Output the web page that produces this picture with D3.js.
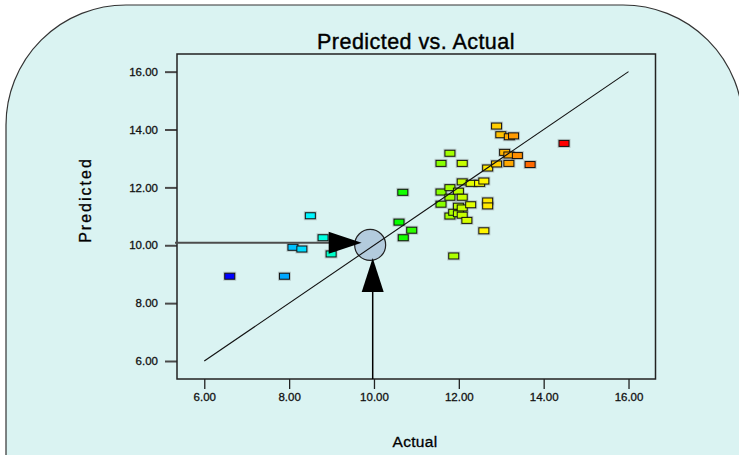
<!DOCTYPE html>
<html><head><meta charset="utf-8">
<script src="https://cdn.jsdelivr.net/npm/d3@7/dist/d3.min.js"></script>
<style>html,body{margin:0;padding:0;background:#fff;}svg{display:block;}</style>
</head><body>
<svg id="chart" width="739" height="455"></svg>
<script>
const actual = [6.60, 7.89, 8.09, 8.30, 8.50, 8.80, 8.99, 10.59, 10.68, 10.69, 10.89,
  11.58, 11.58, 11.58, 11.79, 11.79, 11.79, 11.79, 11.88, 11.88, 11.99, 11.99, 11.99,
  12.08, 12.08, 12.08, 12.08, 12.08, 12.19, 12.28, 12.29, 12.49, 12.59, 12.59,
  12.68, 12.68, 12.68, 12.89, 12.89, 12.99, 13.08, 13.18, 13.18, 13.19, 13.29, 13.38, 13.68, 14.48];
const predicted = [8.93, 8.93, 9.93, 9.87, 11.02, 10.26, 9.70, 10.80, 11.83, 10.26, 10.52,
  12.83, 11.84, 11.42, 13.18, 11.99, 11.66, 11.01, 11.14, 9.63, 11.87, 11.35, 11.09,
  12.83, 12.19, 11.66, 11.29, 11.04, 10.86, 11.40, 12.14, 12.14, 12.22, 10.50,
  12.67, 11.53, 11.36, 14.12, 12.81, 13.82, 13.21, 13.12, 12.83, 13.75, 13.78, 13.10, 12.79, 13.52];
const tickValues = [6, 8, 10, 12, 14, 16];
const diagonal = [6, 16];
const highlight = {actual: 9.91, predicted: 10.01};
const guideActual = 9.97, guidePredicted = 10.09;
const title = "Predicted vs. Actual", xTitle = "Actual", yTitle = "Predicted";

const svg = d3.select("#chart");
// background panel
svg.append("rect").attr("x", 6).attr("y", 5).attr("width", 737).attr("height", 700)
  .attr("rx", 120).attr("ry", 120).attr("fill", "#daf3f2").attr("stroke", "#333").attr("stroke-width", 1.2);

const L = 177, R = 655.5, T = 54, B = 379;
const x = d3.scaleLinear().domain([5.357, 16.636]).range([L, R]);
const y = d3.scaleLinear().domain([5.378, 16.61]).range([B, T]);

const fmt = d3.format(".2f");
const font = "'Liberation Sans', Arial, Helvetica, sans-serif";

// axes
const gy = svg.append("g").attr("transform", `translate(${L},0)`)
  .call(d3.axisLeft(y).tickValues(tickValues).tickFormat(fmt).tickSize(12).tickPadding(7));
gy.select(".domain").remove();
gy.selectAll(".tick line").attr("stroke", "#4a4a4a").attr("stroke-width", 2);
gy.selectAll(".tick text").attr("font-family", font).attr("font-size", 11.5).attr("fill", "#111")
  .attr("stroke", "#111").attr("stroke-width", 0.3);

const gx = svg.append("g").attr("transform", `translate(0,${B})`)
  .call(d3.axisBottom(x).tickValues(tickValues).tickFormat(fmt).tickSize(10).tickPadding(4));
gx.select(".domain").remove();
gx.selectAll(".tick line").attr("stroke", "#222").attr("stroke-width", 1.3);
gx.selectAll(".tick text").attr("font-family", font).attr("font-size", 11.5).attr("fill", "#111")
  .attr("stroke", "#111").attr("stroke-width", 0.3);

// plot frame
svg.append("rect").attr("x", L).attr("y", T).attr("width", R - L).attr("height", B - T)
  .attr("fill", "none").attr("stroke", "#222").attr("stroke-width", 1.5);

// points
const hue = d3.scaleLinear().domain([d3.min(actual), d3.max(actual)]).range([240, 0]);
const pts = actual.map((a, i) => ({a, p: predicted[i]}));
const g = svg.append("g");
g.selectAll("rect.sh").data(pts).join("rect").attr("class", "sh")
  .attr("x", d => x(d.a) - 6.5).attr("y", d => y(d.p) - 4.5).attr("width", 13).attr("height", 9)
  .attr("fill", "#777").attr("opacity", 0.35);
g.selectAll("rect.pt").data(pts).join("rect").attr("class", "pt")
  .attr("x", d => x(d.a) - 5).attr("y", d => y(d.p) - 3).attr("width", 10).attr("height", 6)
  .attr("fill", d => d3.hsl(hue(d.a), 1, 0.5).toString()).attr("stroke", "#111").attr("stroke-width", 1);

// highlight circle
svg.append("circle").attr("cx", x(highlight.actual)).attr("cy", y(highlight.predicted)).attr("r", 15.5)
  .attr("fill", "#b3cbdd").attr("stroke", "#222").attr("stroke-width", 1.2);

// diagonal
svg.append("line").attr("x1", x(diagonal[0])).attr("y1", y(diagonal[0]))
  .attr("x2", x(diagonal[1])).attr("y2", y(diagonal[1]))
  .attr("stroke", "#111").attr("stroke-width", 1.1);

// guide arrows
const hy = y(guidePredicted), vx = x(guideActual);
svg.append("line").attr("x1", L - 2).attr("y1", hy).attr("x2", 335).attr("y2", hy)
  .attr("stroke", "#4d4d4d").attr("stroke-width", 2);
const tipX = x(highlight.actual) - 8.5;
svg.append("path").attr("d", `M${tipX},${hy} L${tipX - 33},${hy - 11} L${tipX - 33},${hy + 11} Z`).attr("fill", "#000");
svg.append("line").attr("x1", vx).attr("y1", B).attr("x2", vx).attr("y2", 290)
  .attr("stroke", "#000").attr("stroke-width", 1.5);
const tipY = y(highlight.predicted) + 13;
svg.append("path").attr("d", `M${vx},${tipY} L${vx - 11},${tipY + 34} L${vx + 11},${tipY + 34} Z`).attr("fill", "#000");

// titles
svg.append("text").attr("x", 416).attr("y", 48.5).attr("text-anchor", "middle")
  .attr("font-family", font).attr("font-size", 21.5).attr("letter-spacing", 0.45).attr("fill", "#000")
  .attr("stroke", "#000").attr("stroke-width", 0.4).text(title);
svg.append("text").attr("x", 415).attr("y", 446.5).attr("text-anchor", "middle")
  .attr("font-family", font).attr("font-size", 15.5).attr("letter-spacing", 0.3).attr("fill", "#000")
  .attr("stroke", "#000").attr("stroke-width", 0.3).text(xTitle);
svg.append("text").attr("transform", "translate(91,200) rotate(-90)").attr("text-anchor", "middle")
  .attr("font-family", font).attr("font-size", 16).attr("letter-spacing", 2).attr("fill", "#000")
  .attr("stroke", "#000").attr("stroke-width", 0.3).text(yTitle);
</script>
</body></html>
